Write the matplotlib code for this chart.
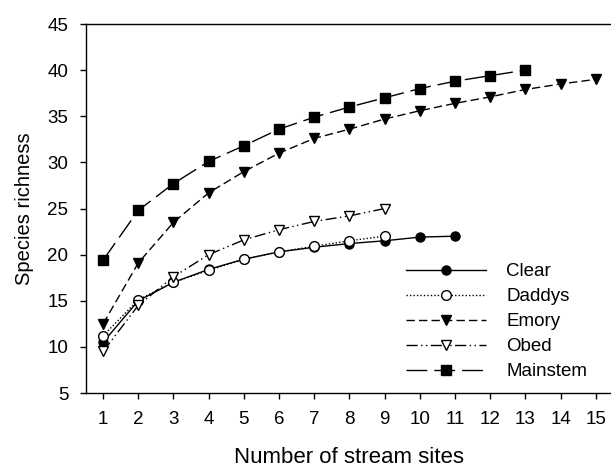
import matplotlib
matplotlib.use("Agg")
import matplotlib.pyplot as plt

plt.rcParams['font.family'] = ['Liberation Sans', 'DejaVu Sans']

sites = list(range(1, 16))
clear = [10.5, 15.0, 17.0, 18.4, 19.5, 20.3, 20.8, 21.2, 21.5, 21.9, 22.0]
daddys = [11.2, 15.1, 17.0, 18.3, 19.5, 20.3, 20.9, 21.5, 22.0]
emory = [12.5, 19.1, 23.5, 26.7, 29.0, 31.0, 32.6, 33.6, 34.7, 35.6, 36.4, 37.1, 37.9, 38.5, 39.0]
obed = [9.5, 14.5, 17.6, 20.0, 21.6, 22.7, 23.6, 24.2, 25.0]
mainstem = [19.4, 24.8, 27.7, 30.1, 31.8, 33.6, 34.9, 36.0, 37.0, 38.0, 38.8, 39.4, 40.0]

W, H = 611, 469
fig = plt.figure(figsize=(W / 100, H / 100), dpi=100)
x_left, x_right = 85.5, 631.0
y_top, y_bot = 24.0, 393.0
ax = fig.add_axes([x_left / W, 1 - y_bot / H, (x_right - x_left) / W, (y_bot - y_top) / H])

ms = 6.5
ax.plot(sites[:len(clear)], clear, color='black', lw=1, ls='-', marker='o', ms=ms,
        mfc='black', mec='black', label='Clear')
ax.plot(sites[:len(daddys)], daddys, color='black', lw=1, ls=(0, (1, 1.5)), marker='o', ms=ms + 0.5,
        mfc='white', mec='black', label='Daddys')
ax.plot(sites[:len(emory)], emory, color='black', lw=1, ls=(0, (6, 3)), marker='v', ms=ms + 1,
        mfc='black', mec='black', label='Emory')
ax.plot(sites[:len(obed)], obed, color='black', lw=1, ls=(0, (8, 2.5, 1, 2.5, 1, 2.5)), marker='v', ms=ms + 1,
        mfc='white', mec='black', label='Obed')
ax.plot(sites[:len(mainstem)], mainstem, color='black', lw=1, ls=(0, (15, 5)), marker='s', ms=ms,
        mfc='black', mec='black', label='Mainstem')

ax.set_xlim(0.5, 16.0)
ax.set_ylim(5, 45)
ax.set_xticks(sites)
ax.set_yticks(range(5, 50, 5))
ax.tick_params(axis='both', direction='out', labelsize=13.5, length=4.3, width=1)
ax.tick_params(axis='x', pad=9)
ax.tick_params(axis='y', pad=8)
for s in ax.spines.values():
    s.set_linewidth(1)
ax.spines['right'].set_visible(False)

ax.set_xlabel('Number of stream sites', fontsize=16, labelpad=10)
ax.xaxis.set_label_coords((349 - x_left) / (x_right - x_left), -0.145)
ax.set_ylabel('Species richness', fontsize=14.5, labelpad=10)

leg = ax.legend(loc='upper left', bbox_to_anchor=(406 / W, 1 - 263 / H), bbox_transform=fig.transFigure,
                frameon=False, fontsize=13.5, borderpad=0, borderaxespad=0,
                handlelength=4.27, handletextpad=1.07, labelspacing=0.42)

fig.savefig('out.png', dpi=100)
